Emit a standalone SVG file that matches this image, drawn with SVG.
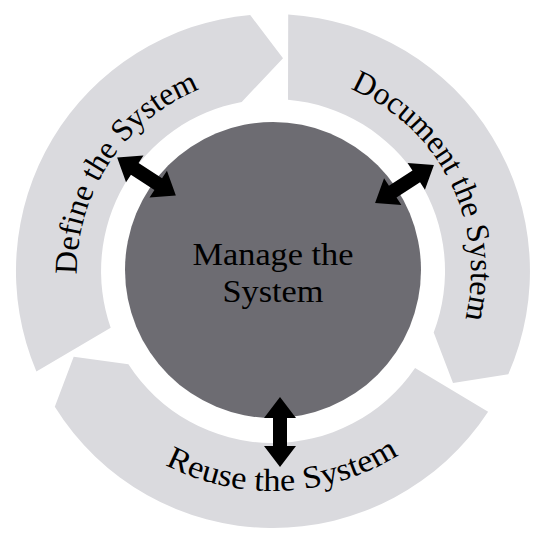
<svg xmlns="http://www.w3.org/2000/svg" width="550" height="545" viewBox="0 0 550 545">
  <style>
    .seg { fill: #dadade; }
    .hub { fill: #6d6c72; }
    .lbl { font-family: "Liberation Serif", "Times New Roman", serif; font-size: 32px; fill: #000; }
    .ctr { font-family: "Liberation Serif", "Times New Roman", serif; font-size: 32px; fill: #000; text-anchor: middle; }
    .arr { fill: #000; }
  </style>
  <defs>
    <path id="pDefine" d="M 115.4 387.6 A 196 196 0 0 1 318.7 80.4" fill="none"/>
    <path id="pDocument" d="M 250.6 74.3 A 198 198 0 0 1 416.6 407.3" fill="none"/>
    <path id="pReuse" d="M 55.0 345.3 A 236 236 0 0 0 498.1 326.0" fill="none"/>
    <polygon id="dblArrow" points="-35,0 -14,-16 -14,-7 14,-7 14,-16 35,0 14,16 14,7 -14,7 -14,16"/>
  </defs>
  <rect width="550" height="545" fill="#ffffff"/>

  <g id="define">
    <path class="seg" d="M 36.4 371.4 A 257 257 0 0 1 250.2 15.0 L 283.0 58.2 L 241.7 101.9 A 172 172 0 0 0 110.7 327.8 Z"/>
    <text class="lbl"><textPath href="#pDefine" startOffset="50%" text-anchor="middle" textLength="236" lengthAdjust="spacingAndGlyphs">Define the System</textPath></text>
  </g>

  <g id="document">
    <path class="seg" d="M 288.2 14.5 A 257 257 0 0 1 508.3 374.3 L 453.0 383.0 L 433.7 332.4 A 172 172 0 0 0 288.0 99.7 Z"/>
    <text class="lbl"><textPath href="#pDocument" startOffset="50%" text-anchor="middle" textLength="280" lengthAdjust="spacingAndGlyphs">Document the System</textPath></text>
  </g>

  <g id="reuse">
    <path class="seg" d="M 488.1 411.7 A 257 257 0 0 1 54.8 406.8 L 73.7 356.8 L 128.4 364.2 A 172 172 0 0 0 415.1 367.9 Z"/>
    <text class="lbl"><textPath href="#pReuse" startOffset="50%" text-anchor="middle" textLength="245" lengthAdjust="spacingAndGlyphs">Reuse the System</textPath></text>
  </g>

  <g id="manage">
    <circle class="hub" cx="273" cy="270" r="148"/>
    <text class="ctr" x="273" y="265" textLength="161" lengthAdjust="spacingAndGlyphs">Manage the</text>
    <text class="ctr" x="273" y="302" textLength="101" lengthAdjust="spacingAndGlyphs">System</text>
  </g>

  <g id="connectors">
    <use href="#dblArrow" class="arr" transform="translate(146.5 176.5) rotate(33)"/>
    <use href="#dblArrow" class="arr" transform="translate(404.5 184) rotate(-32.8)"/>
    <use href="#dblArrow" class="arr" transform="translate(280 432) rotate(90)"/>
  </g>
</svg>
